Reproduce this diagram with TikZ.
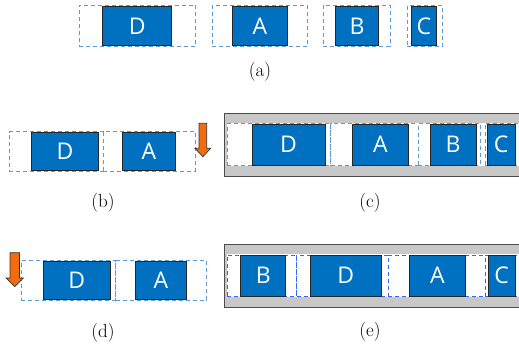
\documentclass[tikz,border=0pt]{standalone}
\usepackage{fontspec}
\newfontfamily\boxfont{Open Sans}
\definecolor{boxblue}{HTML}{0070C0}
\definecolor{slotblue}{HTML}{5B9BD5}
\definecolor{slotbright}{HTML}{3366FF}
\definecolor{tray}{HTML}{C8C8C8}
\definecolor{arrorange}{HTML}{F26B0F}
\tikzset{
  bluebox/.style={draw=black!85, fill=boxblue, line width=0.8pt, inner sep=0pt, outer sep=0pt,
    text=white, font=\boxfont\fontsize{23}{23}\selectfont},
  slotbox/.style={draw=slotblue, fill=white, dashed, dash pattern=on 4pt off 3pt, line width=0.9pt, inner sep=0pt, outer sep=0pt},
  slotboxe/.style={slotbox, draw=slotbright},
  traybox/.style={draw=black!70, fill=tray, line width=0.9pt},
  band/.style={fill=white, draw=none},
  downarrow/.style={draw=black!80, fill=arrorange, line width=0.7pt, line join=miter},
  caption/.style={font=\fontsize{19}{19}\selectfont, inner sep=0pt}
}
\newcommand{\mybox}[6]{\node[bluebox, minimum width={(#4-#2)*1pt}, minimum height={(#5-#3)*1pt}] (#1) at ({(#2+#4)/2},{(#3+#5)/2}) {#6};}
\newcommand{\myslot}[6][slotbox]{\node[#1, minimum width={(#5-#3)*1pt}, minimum height={(#6-#4)*1pt}] (#2) at ({(#3+#5)/2},{(#4+#6)/2}) {};}
\begin{document}
\begin{tikzpicture}[x=1pt,y=-1pt]
\useasboundingbox (0,0) rectangle (519,350);
\clip (0,0) rectangle (519,350);
% (a)
\myslot{aDs}{79}{5.3}{195.7}{46.7}
\myslot{aAs}{212.3}{5.3}{307.3}{46.7}
\myslot{aBs}{323.3}{5.3}{390}{46.7}
\myslot{aCs}{407.3}{5.3}{442.3}{46.7}
\mybox{aD}{102.7}{6}{171.7}{45.7}{D}
\mybox{aA}{232.7}{6}{287}{45.7}{A}
\mybox{aB}{335.7}{6}{378.3}{45.7}{B}
\mybox{aC}{411}{6}{436.7}{45.7}{C}
\node[caption] (capa) at (260,72) {(a)};
% (b)
\myslot{bDs}{9.3}{131.7}{103.3}{171}
\myslot{bAs}{103.3}{131.7}{195.7}{171}
\mybox{bD}{31.7}{132}{98.3}{170.3}{D}
\mybox{bA}{122.7}{132}{175}{170.3}{A}
\draw[downarrow] (199,123.3) -- (206.7,123.3) -- (206.7,148.3) -- (210.7,148.3) -- (202.85,156.7) -- (195,148.3) -- (199,148.3) -- cycle;
\node[caption] (capb) at (103,203) {(b)};
% (c)
\draw[traybox] (224.7,113.3) rectangle (540,176);
\fill[band] (227.3,122.7) rectangle (540,166);
\myslot{cDs}{227.3}{123.5}{330.7}{165.5}
\myslot{cAs}{330.7}{123.5}{418.3}{165.5}
\myslot{cBs}{418.3}{123.5}{480}{165.5}
\myslot{cCs}{485}{123.5}{540}{165.5}
\mybox{cD}{252}{124}{325}{165.3}{D}
\mybox{cA}{352.3}{124}{408.3}{165.3}{A}
\mybox{cB}{430}{124}{476}{165.3}{B}
\mybox{cC}{487.3}{124}{515}{165.3}{C}
\node[caption] (capc) at (370,203) {(c)};
% (d)
\myslot{dDs}{21}{260.7}{115.7}{300.3}
\myslot{dAs}{115.7}{260.7}{206.7}{300.3}
\mybox{dD}{43.3}{261}{110}{299.7}{D}
\mybox{dA}{135}{261}{186.7}{299.7}{A}
\draw[downarrow] (10,252.7) -- (19.5,252.7) -- (19.5,278) -- (23.3,278) -- (14.75,286.7) -- (6.2,278) -- (10,278) -- cycle;
\node[caption] (capd) at (103,333) {(d)};
% (e)
\draw[traybox] (224.7,244) rectangle (540,307.3);
\fill[band] (227.3,254) rectangle (540,296.7);
\myslot[slotboxe]{eBs}{227.3}{255}{296.7}{296.3}
\myslot[slotboxe]{eDs}{296.7}{255}{388}{296.3}
\myslot[slotboxe]{eAs}{388}{255}{485}{296.3}
\myslot[slotboxe]{eCs}{485}{255}{540}{296.3}
\mybox{eB}{240.7}{255}{285.7}{296}{B}
\mybox{eD}{310}{255}{381.7}{296}{D}
\mybox{eA}{409.3}{255}{465.7}{296}{A}
\mybox{eC}{488.3}{255}{515}{296}{C}
\node[caption] (cape) at (370,331.7) {(e)};
\end{tikzpicture}
\end{document}
